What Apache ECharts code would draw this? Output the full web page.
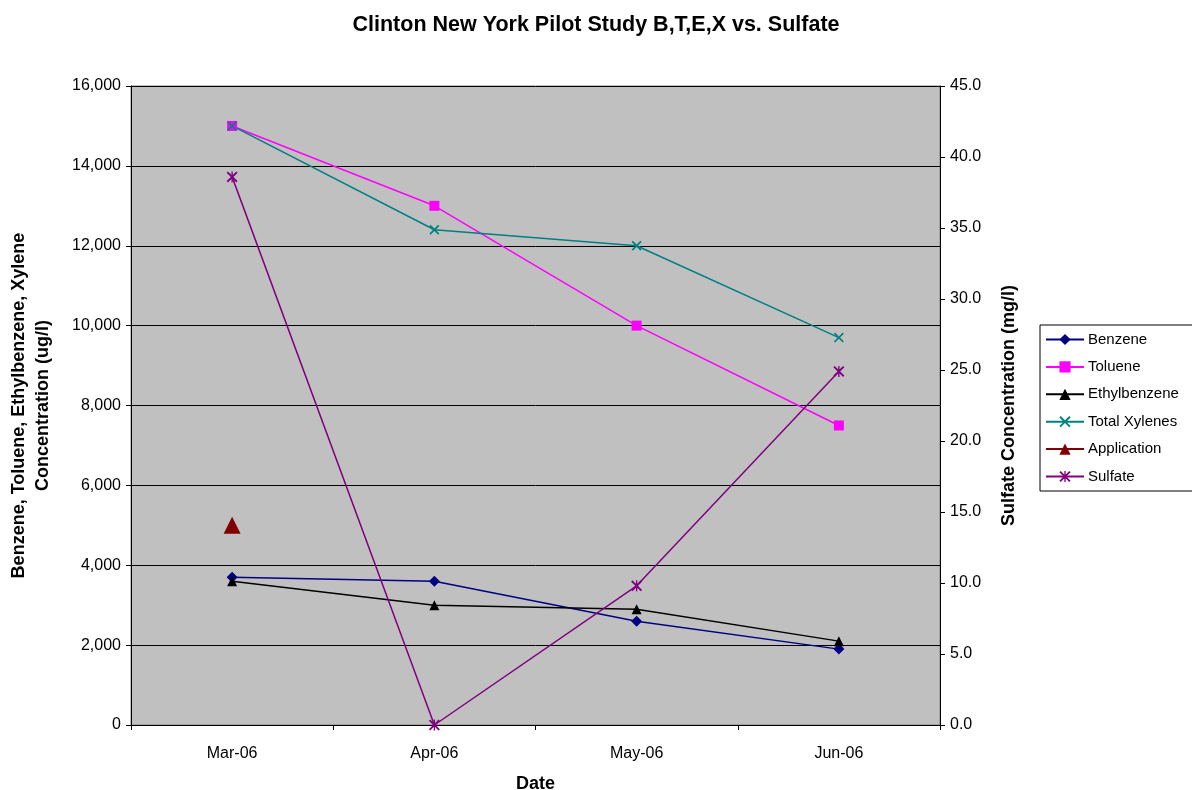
<!DOCTYPE html>
<html>
<head>
<meta charset="utf-8">
<script src="https://cdn.jsdelivr.net/npm/echarts@6/dist/echarts.min.js"></script>
<style>
html,body{margin:0;padding:0;background:#fff;}
#chart{width:1192px;height:790px;}
</style>
</head>
<body>
<div id="chart"></div>
<script>
var categories = ['Mar-06', 'Apr-06', 'May-06', 'Jun-06'];
var benzene = [3700, 3600, 2600, 1900];
var toluene = [15000, 13000, 10000, 7500];
var ethylbenzene = [3600, 3000, 2900, 2100];
var totalXylenes = [15000, 12400, 12000, 9700];
var application = [5000, null, null, null];
var sulfate = [38.6, 0, 9.8, 24.9];

var FONT = 'Liberation Sans, Arial, sans-serif';
var xPath = 'path://M0,1.2 L1.2,0 L5,3.8 L8.8,0 L10,1.2 L6.2,5 L10,8.8 L8.8,10 L5,6.2 L1.2,10 L0,8.8 L3.8,5 Z';
var starPath = 'path://M0,1.2 L1.2,0 L5,3.8 L8.8,0 L10,1.2 L6.2,5 L10,8.8 L8.8,10 L5,6.2 L1.2,10 L0,8.8 L3.8,5 Z M4.4,0 L5.6,0 L5.6,10 L4.4,10 Z';

var chart = echarts.init(document.getElementById('chart'), null, {renderer: 'canvas'});
chart.setOption({
  animation: false,
  backgroundColor: '#ffffff',
  textStyle: {fontFamily: FONT},
  title: {
    text: 'Clinton New York Pilot Study B,T,E,X vs. Sulfate',
    left: 'center', top: 9,
    textStyle: {fontFamily: FONT, fontSize: 21.5, fontWeight: 'bold', color: '#000'}
  },
  legend: {
    orient: 'vertical',
    left: 1040, top: 325,
    padding: [7, 40, 7, 5],
    itemGap: 12.4,
    itemWidth: 38, itemHeight: 14,
    borderColor: '#000', borderWidth: 1,
    backgroundColor: '#fff',
    textStyle: {fontFamily: FONT, fontSize: 15, lineHeight: 14, color: '#000', padding: [0, 0, 0, -1]},
    data: ['Benzene', 'Toluene', 'Ethylbenzene', 'Total Xylenes', 'Application', 'Sulfate']
  },
  grid: {
    left: 131, right: 252, top: 86, bottom: 65,
    outerBoundsMode: 'none',
    containLabel: false,
    show: true, backgroundColor: '#C0C0C0', borderColor: '#808080', borderWidth: 1
  },
  xAxis: {
    type: 'category',
    data: categories,
    boundaryGap: true,
    name: 'Date',
    nameLocation: 'middle',
    nameGap: 50,
    nameTextStyle: {fontFamily: FONT, fontSize: 18, fontWeight: 'bold', color: '#000'},
    axisLine: {show: true, lineStyle: {color: '#000', width: 1}},
    axisTick: {show: true, inside: false, length: 5, interval: 0, alignWithLabel: false, lineStyle: {color: '#000'}},
    axisLabel: {fontFamily: FONT, fontSize: 16, color: '#000', margin: 21},
    splitLine: {show: false}
  },
  yAxis: [{
    type: 'value',
    min: 0, max: 16000, interval: 2000,
    position: 'left',
    name: 'Benzene, Toluene, Ethylbenzene, Xylene\nConcentration (ug/l)',
    nameLocation: 'middle',
    nameRotate: 90,
    nameGap: 76,
    nameTextStyle: {fontFamily: FONT, fontSize: 18, fontWeight: 'bold', color: '#000', lineHeight: 24, align: 'center'},
    axisLine: {show: true, lineStyle: {color: '#000', width: 1}},
    axisTick: {show: true, inside: false, length: 5, lineStyle: {color: '#000'}},
    axisLabel: {fontFamily: FONT, fontSize: 16, color: '#000', margin: 10,
      formatter: function (v) { return v.toLocaleString('en-US'); }},
    splitLine: {show: true, lineStyle: {color: '#000', width: 1}}
  }, {
    type: 'value',
    min: 0, max: 45, interval: 5,
    position: 'right',
    name: 'Sulfate Concentration (mg/l)',
    nameLocation: 'middle',
    nameRotate: 90,
    nameGap: 60,
    nameTextStyle: {fontFamily: FONT, fontSize: 18, fontWeight: 'bold', color: '#000'},
    axisLine: {show: true, lineStyle: {color: '#000', width: 1}},
    axisTick: {show: true, inside: false, length: 5, lineStyle: {color: '#000'}},
    axisLabel: {fontFamily: FONT, fontSize: 16, color: '#000', margin: 10,
      formatter: function (v) { return v.toFixed(1); }},
    splitLine: {show: false}
  }],
  series: [{
    name: 'Benzene', type: 'line', data: benzene,
    symbol: 'diamond', symbolSize: 11,
    lineStyle: {color: '#000080', width: 1.5},
    itemStyle: {color: '#000080'}
  }, {
    name: 'Toluene', type: 'line', data: toluene,
    symbol: 'rect', symbolSize: 10,
    lineStyle: {color: '#FF00FF', width: 1.5},
    itemStyle: {color: '#FF00FF'}
  }, {
    name: 'Ethylbenzene', type: 'line', data: ethylbenzene,
    symbol: 'triangle', symbolSize: 10,
    lineStyle: {color: '#000000', width: 1.5},
    itemStyle: {color: '#000000'}
  }, {
    name: 'Total Xylenes', type: 'line', data: totalXylenes,
    symbol: xPath, symbolSize: 10,
    lineStyle: {color: '#008080', width: 1.5},
    itemStyle: {color: '#008080'}
  }, {
    name: 'Application', type: 'line', data: application,
    symbol: 'triangle', symbolSize: 17,
    lineStyle: {color: '#800000', width: 1.5},
    itemStyle: {color: '#800000'}
  }, {
    name: 'Sulfate', type: 'line', data: sulfate, yAxisIndex: 1,
    symbol: starPath, symbolSize: 11,
    lineStyle: {color: '#800080', width: 1.5},
    itemStyle: {color: '#800080'}
  }]
});
</script>
</body>
</html>
